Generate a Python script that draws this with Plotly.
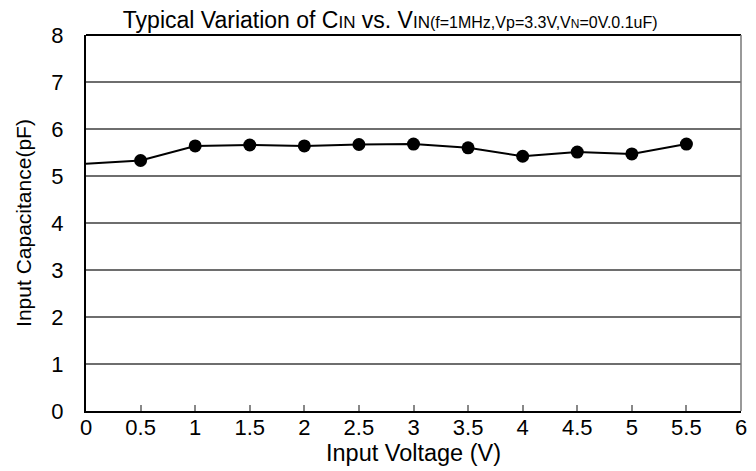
import plotly.graph_objects as go

# Data
voltage = [0, 0.5, 1.0, 1.5, 2.0, 2.5, 3.0, 3.5, 4.0, 4.5, 5.0, 5.5]
capacitance = [5.26, 5.33, 5.64, 5.66, 5.64, 5.67, 5.68, 5.60, 5.42, 5.51, 5.47, 5.68]
marker_voltage = voltage[1:]
marker_capacitance = capacitance[1:]

x_ticks = [0, 0.5, 1, 1.5, 2, 2.5, 3, 3.5, 4, 4.5, 5, 5.5, 6]
x_tick_labels = ["0", "0.5", "1", "1.5", "2", "2.5", "3", "3.5", "4", "4.5", "5", "5.5", "6"]
y_ticks = [0, 1, 2, 3, 4, 5, 6, 7, 8]

FONT = "Liberation Sans, Arial, sans-serif"

fig = go.Figure()
fig.add_trace(go.Scatter(
    x=voltage, y=capacitance, mode="lines",
    line=dict(color="black", width=2), hoverinfo="skip", showlegend=False,
))
fig.add_trace(go.Scatter(
    x=marker_voltage, y=marker_capacitance, mode="markers",
    marker=dict(color="black", size=13), showlegend=False,
))

title = ("Typical Variation of C<span style='font-size:17px'>IN</span> vs. "
         "V<span style='font-size:17px'>IN</span>"
         "<span style='font-size:16px'>(f=1MHz,Vp=3.3V,V<span style='font-size:12px'>N</span>=0V.0.1uF)</span>")

# The page body has an 8px margin, so the figure is sized to fill the window from (8, 8)
fig.update_layout(
    width=748, height=463,
    margin=dict(l=78, r=9, t=27, b=60),
    paper_bgcolor="white", plot_bgcolor="white",
    font=dict(family=FONT, color="black", size=21),
    title=dict(text=title, x=0.511, xanchor="center", y=0.974, yanchor="middle",
               font=dict(size=23, family=FONT, color="black")),
    xaxis=dict(
        range=[0, 6], tickvals=x_ticks, ticktext=x_tick_labels,
        showgrid=False, zeroline=False,
        showline=True, linecolor="black", linewidth=2,
        ticks="inside", ticklen=6, tickcolor="#888", tickwidth=1.5,
        ticklabelstandoff=-4,
        tickfont=dict(size=22, family=FONT, color="black"),
        title=dict(text="Input Voltage (V)", font=dict(size=23.5, family=FONT), standoff=4),
    ),
    yaxis=dict(
        range=[0, 8], tickvals=y_ticks,
        showgrid=True, gridcolor="#6e6e6e", gridwidth=1.5,
        zeroline=False,
        showline=True, linecolor="black", linewidth=2,
        ticks="", ticklabelstandoff=16,
        tickfont=dict(size=22, family=FONT, color="black"),
        title=dict(text="Input Capacitance(pF)", font=dict(size=21, family=FONT), standoff=14),
    ),
)

# Frame: top border black, right border gray
fig.add_shape(type="line", xref="paper", yref="paper", x0=0, x1=1, y0=1, y1=1,
              line=dict(color="black", width=2))
fig.add_shape(type="line", xref="paper", yref="paper", x0=1, x1=1, y0=0, y1=1,
              line=dict(color="#777", width=1.5))

fig.write_html("out.html")
